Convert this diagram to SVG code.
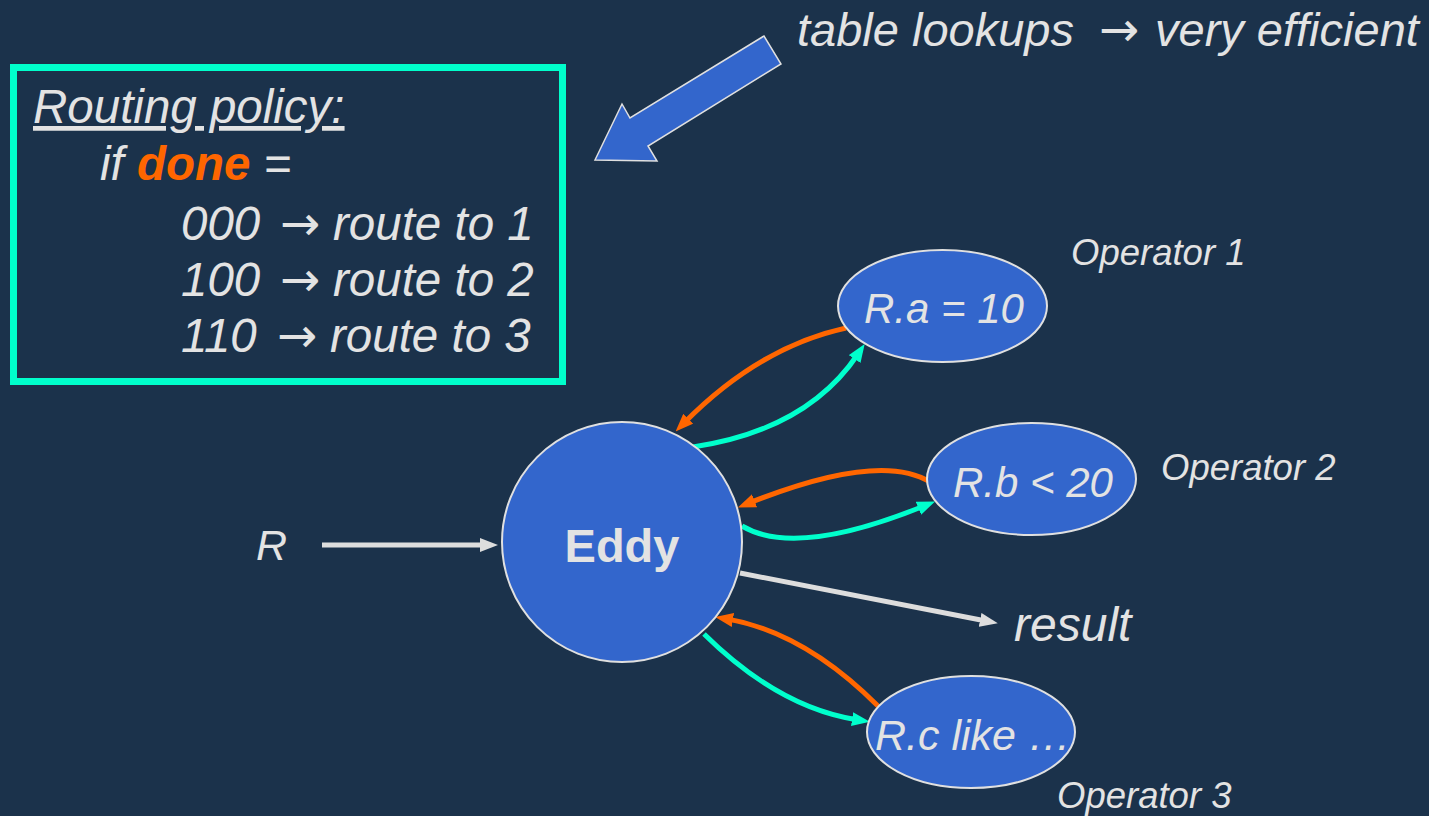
<svg xmlns="http://www.w3.org/2000/svg" width="1429" height="816" viewBox="0 0 1429 816">
  <style>
    .t { font-family: "Liberation Sans", Arial, sans-serif; font-style: italic; fill: #E3E3E3; }
    .arr { font-family: "DejaVu Sans", sans-serif; font-style: normal; font-size: 48px; }
    .node { fill: #3366CC; stroke: #E0E0E0; stroke-width: 2; }
    .op { font-size: 42px; text-anchor: middle; }
    .opl { font-size: 36.5px; }
    .flow { fill: none; stroke-width: 5; }
    .ret { stroke: #FF6600; }
    .fwd { stroke: #00FFCC; }
    .io { stroke: #DDDDDD; }
  </style>
  <defs>
    <marker id="ah-orange" viewBox="0 0 18 14" markerWidth="18" markerHeight="14" refX="6" refY="7" orient="auto" markerUnits="userSpaceOnUse">
      <path d="M0,0 L18,7 L0,14 z" fill="#FF6600"/>
    </marker>
    <marker id="ah-teal" viewBox="0 0 18 14" markerWidth="18" markerHeight="14" refX="6" refY="7" orient="auto" markerUnits="userSpaceOnUse">
      <path d="M0,0 L18,7 L0,14 z" fill="#00FFCC"/>
    </marker>
    <marker id="ah-gray" viewBox="0 0 18 14" markerWidth="18" markerHeight="14" refX="6" refY="7" orient="auto" markerUnits="userSpaceOnUse">
      <path d="M0,0 L18,7 L0,14 z" fill="#DDDDDD"/>
    </marker>
  </defs>

  <rect x="0" y="0" width="1429" height="816" fill="#1B324B"/>

  <!-- routing policy box -->
  <g id="policy">
    <rect x="13.5" y="67.5" width="549" height="314" fill="none" stroke="#00FFCC" stroke-width="7"/>
    <text class="t" x="33" y="123" font-size="47.5" text-decoration="underline">Routing policy:</text>
    <text class="t" x="100" y="180" font-size="47.5">if <tspan font-weight="bold" fill="#FF6600">done</tspan> =</text>
    <text class="t" y="240" font-size="47.5"><tspan x="181">000</tspan><tspan class="arr" x="280">→</tspan><tspan x="333">route to 1</tspan></text>
    <text class="t" y="296" font-size="47.5"><tspan x="181">100</tspan><tspan class="arr" x="280">→</tspan><tspan x="333">route to 2</tspan></text>
    <text class="t" y="352" font-size="47.5"><tspan x="181">110</tspan><tspan class="arr" x="277">→</tspan><tspan x="330">route to 3</tspan></text>
  </g>

  <!-- callout -->
  <g id="callout">
    <polygon points="595,160 622,104 630,118 764,36 781,64 648,146 657,161" fill="#3366CC" stroke="#E0E0E0" stroke-width="1.5"/>
    <text class="t" y="46" font-size="47"><tspan x="797">table lookups</tspan><tspan class="arr" x="1099">→</tspan><tspan x="1155">very efficient</tspan></text>
  </g>

  <!-- connectors -->
  <g id="connectors">
    <path class="flow io" d="M322,545 L486,545" marker-end="url(#ah-gray)"/>
    <path class="flow io" d="M740,573 L986,621" marker-end="url(#ah-gray)"/>
    <path class="flow ret" d="M846,328 Q759,347 684,423" marker-end="url(#ah-orange)"/>
    <path class="flow fwd" d="M693,447 Q807,430 858,354" marker-end="url(#ah-teal)"/>
    <path class="flow ret" d="M930,482 Q880,451 749,503" marker-end="url(#ah-orange)"/>
    <path class="flow fwd" d="M742,526 Q796,558 924,506" marker-end="url(#ah-teal)"/>
    <path class="flow ret" d="M878,706 Q804,632 727,619" marker-end="url(#ah-orange)"/>
    <path class="flow fwd" d="M704,634 Q779,708 858,720" marker-end="url(#ah-teal)"/>
  </g>

  <g id="input-r">
    <text class="t" x="256" y="560" font-size="43">R</text>
  </g>

  <g id="eddy">
    <circle class="node" cx="622" cy="542" r="120"/>
    <text x="622" y="562" font-family="Liberation Sans, Arial, sans-serif" font-weight="bold" font-size="47" fill="#E3E3E3" text-anchor="middle">Eddy</text>
  </g>

  <g id="op1">
    <ellipse class="node" cx="942.5" cy="306" rx="104.5" ry="56"/>
    <text class="t op" x="944" y="323">R.a = 10</text>
    <text class="t opl" x="1071" y="265">Operator 1</text>
  </g>

  <g id="op2">
    <ellipse class="node" cx="1031.5" cy="479" rx="104.5" ry="56"/>
    <text class="t op" x="1033" y="497">R.b &lt; 20</text>
    <text class="t opl" x="1161" y="480">Operator 2</text>
  </g>

  <g id="op3">
    <ellipse class="node" cx="971" cy="732" rx="104" ry="56"/>
    <text class="t" x="875" y="750" font-size="43">R.c like …</text>
    <text class="t opl" x="1057" y="808">Operator 3</text>
  </g>

  <g id="result">
    <text class="t" x="1014" y="641" font-size="48">result</text>
  </g>
</svg>
